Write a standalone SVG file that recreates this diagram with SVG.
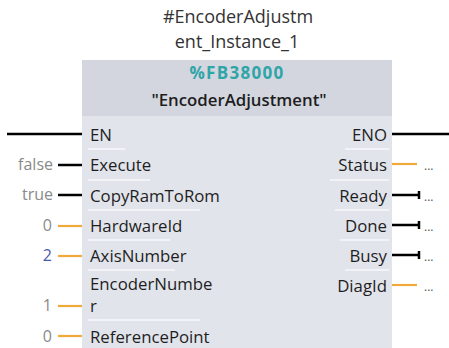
<svg xmlns="http://www.w3.org/2000/svg" width="449" height="348" viewBox="0 0 449 348">
<style>
text{font-family:"Open Sans","Noto Sans","DejaVu Sans",sans-serif;font-size:16.8px;fill:#1e1e1e}
.t{fill:#333;font-size:18px}
.v{fill:#8a8a8a;text-anchor:end;font-size:16px}
.r{text-anchor:end}
.d{fill:#555;font-size:12px}
.b{stroke:#000;stroke-width:2.5;fill:none}
.o{stroke:#f2a93b;stroke-width:2.2;fill:none}
.s{stroke:#f7f8fa;stroke-width:1.3}
</style>
<rect width="449" height="348" fill="#fff"/>
<g id="instance">
<text class="t" x="238" y="23" text-anchor="middle">#EncoderAdjustm</text>
<text class="t" x="237" y="48" text-anchor="middle">ent_Instance_1</text>
</g>
<g id="block">
<rect x="82" y="60" width="310" height="56" fill="#d3d6df"/>
<rect x="82" y="116" width="310" height="232" fill="#e2e4eb"/>
<text x="237" y="79" text-anchor="middle" style="fill:#2fa5a8;font-weight:bold;font-size:17px;letter-spacing:1.3px">%FB38000</text>
<text x="239" y="106" text-anchor="middle" style="font-weight:600;font-size:16.8px">"EncoderAdjustment"</text>
<g id="in-labels">
<text x="90" y="141">EN</text>
<text x="90" y="171">Execute</text>
<text x="90" y="202">CopyRamToRom</text>
<text x="90" y="232">HardwareId</text>
<text x="90" y="262">AxisNumber</text>
<text x="90" y="290">EncoderNumbe</text>
<text x="90" y="312">r</text>
<text x="90" y="343">ReferencePoint</text>
</g>
<g id="out-labels">
<text class="r" x="387" y="141">ENO</text>
<text class="r" x="387" y="171">Status</text>
<text class="r" x="387" y="202">Ready</text>
<text class="r" x="387" y="232">Done</text>
<text class="r" x="387" y="262">Busy</text>
<text class="r" x="387" y="292">DiagId</text>
</g>
<g id="separators">
<line class="s" x1="88" y1="149" x2="125" y2="149"/>
<line class="s" x1="88" y1="180" x2="150" y2="180"/>
<line class="s" x1="88" y1="210" x2="200" y2="210"/>
<line class="s" x1="88" y1="240" x2="170" y2="240"/>
<line class="s" x1="88" y1="270" x2="175" y2="270"/>
<line class="s" x1="88" y1="320" x2="200" y2="320"/>
<line class="s" x1="345" y1="149" x2="389" y2="149"/>
<line class="s" x1="330" y1="180" x2="389" y2="180"/>
<line class="s" x1="335" y1="210" x2="389" y2="210"/>
<line class="s" x1="340" y1="240" x2="389" y2="240"/>
<line class="s" x1="345" y1="270" x2="389" y2="270"/>
</g>
</g>
<g id="values">
<text class="v" x="53" y="170">false</text>
<text class="v" x="53" y="200">true</text>
<text class="v" x="52" y="231">0</text>
<text class="v" x="52" y="261" style="fill:#4a5aa8">2</text>
<text class="v" x="52" y="311">1</text>
<text class="v" x="52" y="342">0</text>
<text class="d" x="424" y="170">...</text>
<text class="d" x="424" y="201">...</text>
<text class="d" x="424" y="231">...</text>
<text class="d" x="424" y="261">...</text>
<text class="d" x="424" y="291">...</text>
</g>
<g id="connectors">
<line class="b" x1="7" y1="134" x2="82" y2="134"/>
<line class="b" x1="58" y1="165" x2="82" y2="165"/>
<line class="b" x1="58" y1="195" x2="82" y2="195"/>
<line class="o" x1="58" y1="226" x2="82" y2="226"/>
<line class="o" x1="58" y1="256" x2="82" y2="256"/>
<line class="o" x1="58" y1="306" x2="82" y2="306"/>
<line class="o" x1="58" y1="336" x2="82" y2="336"/>
<line class="b" x1="392" y1="134" x2="449" y2="134"/>
<line class="o" x1="392" y1="164" x2="417" y2="164"/>
<path class="b" d="M392 195H419M419 191V199"/>
<path class="b" d="M392 225H419M419 221V229"/>
<path class="b" d="M392 255H419M419 251V259"/>
<line class="o" x1="392" y1="285" x2="417" y2="285"/>
</g>
</svg>
